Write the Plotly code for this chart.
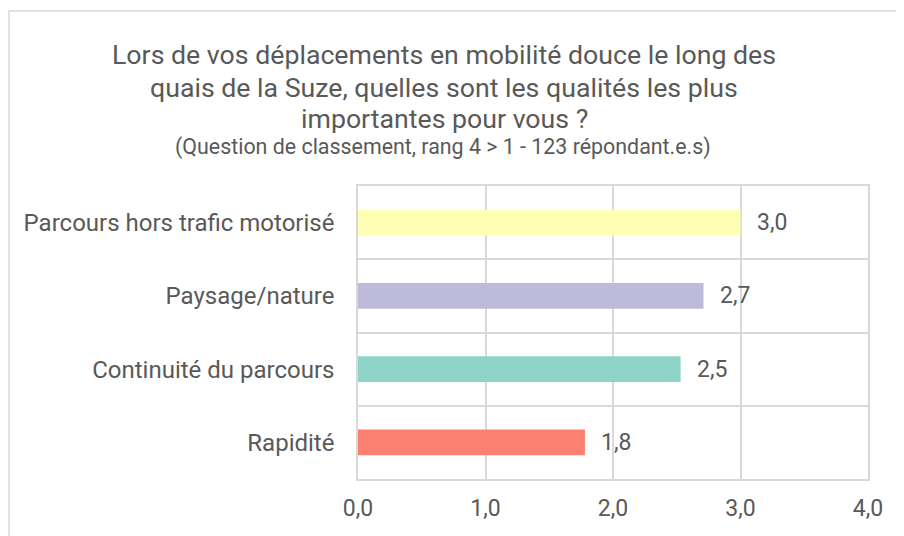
import plotly.graph_objects as go

categories = ["Rapidité", "Continuité du parcours", "Paysage/nature", "Parcours hors trafic motorisé"]
values = [1.78, 2.53, 2.71, 3.0]
colors = ["#FB8072", "#8DD3C7", "#BEBADA", "#FFFFB3"]
x_ticks = [0, 1, 2, 3, 4]

title_lines = ["Lors de vos déplacements en mobilité douce le long des",
               "quais de la Suze, quelles sont les qualités les plus",
               "importantes pour vous ?"]
subtitle_text = "(Question de classement, rang 4 > 1 - 123 répondant.e.s)"

OFF = 8  # page body margin
W, H = 904 - OFF, 536 - OFF
L, R, T, B = 358 - OFF, 36, 186 - OFF, 57
pw, ph = W - L - R, H - T - B

def px_x(p):
    return (p - OFF - L) / pw

def px_y(p):
    return (H - B - (p - OFF)) / ph

txt = "#595959"
grid = "#D9D9D9"
font = "Roboto"

fig = go.Figure()
ypos = list(range(len(categories)))
fig.add_trace(go.Bar(
    x=values, y=ypos, orientation="h", width=0.35,
    marker=dict(color=colors, line=dict(width=0)),
    hoverinfo="skip", showlegend=False,
))

for v, yy in zip(values, ypos):
    fig.add_annotation(x=v, y=yy, xref="x", yref="y", text=f"{v:.1f}".replace(".", ","),
                       showarrow=False, xanchor="left", yanchor="middle", xshift=14,
                       font=dict(family=font, size=23, color=txt))

for line, yc in zip(title_lines, [55.5, 88, 119]):
    fig.add_annotation(x=px_x(444), y=px_y(yc), xref="paper", yref="paper", text=line,
                       showarrow=False, xanchor="center", yanchor="middle",
                       font=dict(family=font, size=26.7, color=txt))
fig.add_annotation(x=px_x(443), y=px_y(147.5), xref="paper", yref="paper", text=subtitle_text,
                   showarrow=False, xanchor="center", yanchor="middle",
                   font=dict(family=font, size=21.4, color=txt))

fig.add_shape(type="rect", xref="paper", yref="paper",
              x0=px_x(9), x1=px_x(915), y0=px_y(545), y1=px_y(11),
              line=dict(color=grid, width=1.5), fillcolor="rgba(0,0,0,0)", layer="below")

fig.update_layout(
    width=W, height=H,
    margin=dict(l=L, r=R, t=T, b=B, pad=0),
    paper_bgcolor="white", plot_bgcolor="white",
    separators=", ",
    xaxis=dict(range=[0, 4], tickvals=x_ticks, ticktext=[f"{t:.1f}".replace(".", ",") for t in x_ticks],
               showgrid=True, gridcolor=grid, gridwidth=1.5, zeroline=False,
               showline=True, linecolor=grid, linewidth=1.5, mirror=True,
               ticks="", ticklabelstandoff=8,
               tickfont=dict(family=font, size=23, color=txt), fixedrange=True),
    yaxis=dict(range=[-0.5, 3.5], tickvals=ypos, ticktext=categories,
               showgrid=False, zeroline=False,
               minor=dict(tickvals=[-0.5, 0.5, 1.5, 2.5, 3.5], showgrid=True, gridcolor=grid, gridwidth=1.5, ticks=""),
               showline=True, linecolor=grid, linewidth=1.5, mirror=True,
               ticks="", ticklabelstandoff=17,
               tickfont=dict(family=font, size=24, color=txt), fixedrange=True),
)

fig.write_html("out.html")
